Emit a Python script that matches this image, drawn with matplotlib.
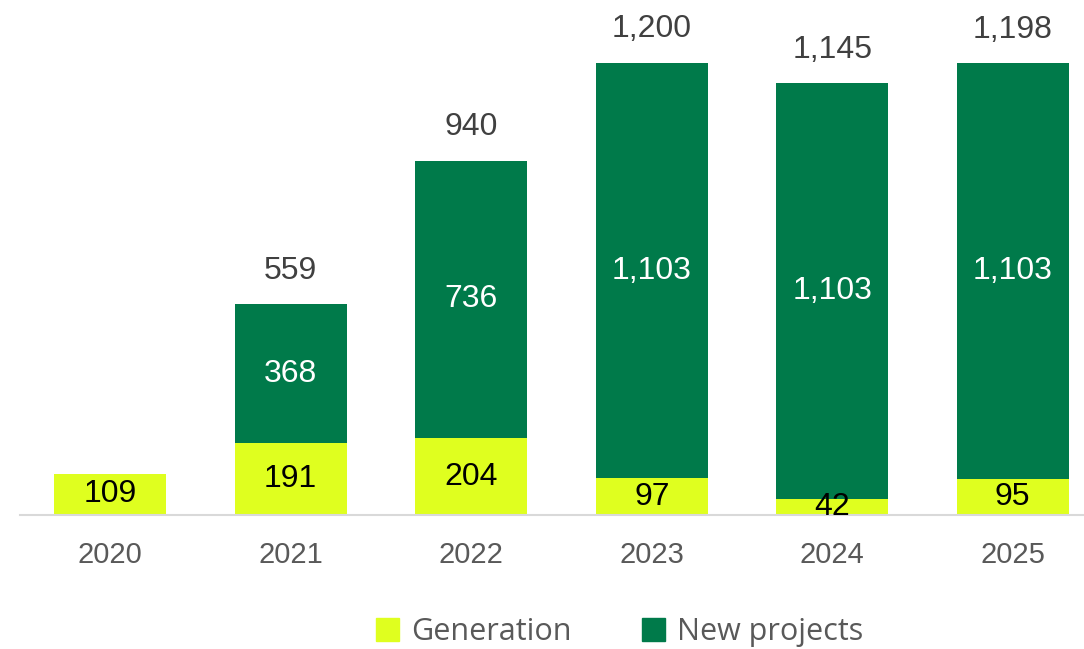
import matplotlib
matplotlib.use("Agg")
import matplotlib.pyplot as plt
from matplotlib.patches import Patch

years = ["2020", "2021", "2022", "2023", "2024", "2025"]
generation = [109, 191, 204, 97, 42, 95]
new_projects = [0, 368, 736, 1103, 1103, 1103]
totals = [None, 559, 940, 1200, 1145, 1198]

LIME = "#DFFF1F"
GREEN = "#007A4A"

plt.rcParams["font.family"] = ["Liberation Sans", "DejaVu Sans"]

fig = plt.figure(figsize=(10.84, 6.49), dpi=100)
W, H = 1084, 649
ax = fig.add_axes([20 / W, (H - 515) / H, 1064 / W, 490 / H])

x = list(range(len(years)))
ax.bar(x, generation, width=0.62, color=LIME, zorder=2)
ax.bar(x, new_projects, width=0.62, bottom=generation, color=GREEN, zorder=2)

ax.set_xlim(-0.5, -0.5 + 1064 / 180.5)
ax.set_ylim(0, 1300)

fs = 23
for i in x:
    ax.text(i, generation[i] / 2, f"{generation[i]:,}", ha="center", va="center",
            fontsize=fs, color="black", zorder=3)
    if new_projects[i]:
        ax.text(i, generation[i] + new_projects[i] / 2, f"{new_projects[i]:,}",
                ha="center", va="center", fontsize=fs, color="white", zorder=3)
    if totals[i] is not None:
        ax.annotate(f"{totals[i]:,}", (i, generation[i] + new_projects[i]),
                    xytext=(0, 24), textcoords="offset points", ha="center",
                    va="center", fontsize=fs, color="#404040", annotation_clip=False)

for s in ["top", "right", "left"]:
    ax.spines[s].set_visible(False)
ax.spines["bottom"].set_color("#D9D9D9")
ax.spines["bottom"].set_linewidth(1.5)
ax.set_yticks([])
ax.set_xticks(x)
ax.set_xticklabels(years, fontsize=21, color="#595959")
ax.tick_params(axis="x", length=0, pad=19)

handles = [Patch(color=LIME, label="Generation"), Patch(color=GREEN, label="New projects")]
fig.legend(handles=handles, loc="center", bbox_to_anchor=(620 / W, (H - 632) / H),
           ncol=2, frameon=False, handlelength=0.75, handleheight=0.75,
           columnspacing=2.3, handletextpad=0.4,
           prop={"family": "Open Sans", "size": 22}, labelcolor="#595959")

fig.savefig("out.png", dpi=100)
